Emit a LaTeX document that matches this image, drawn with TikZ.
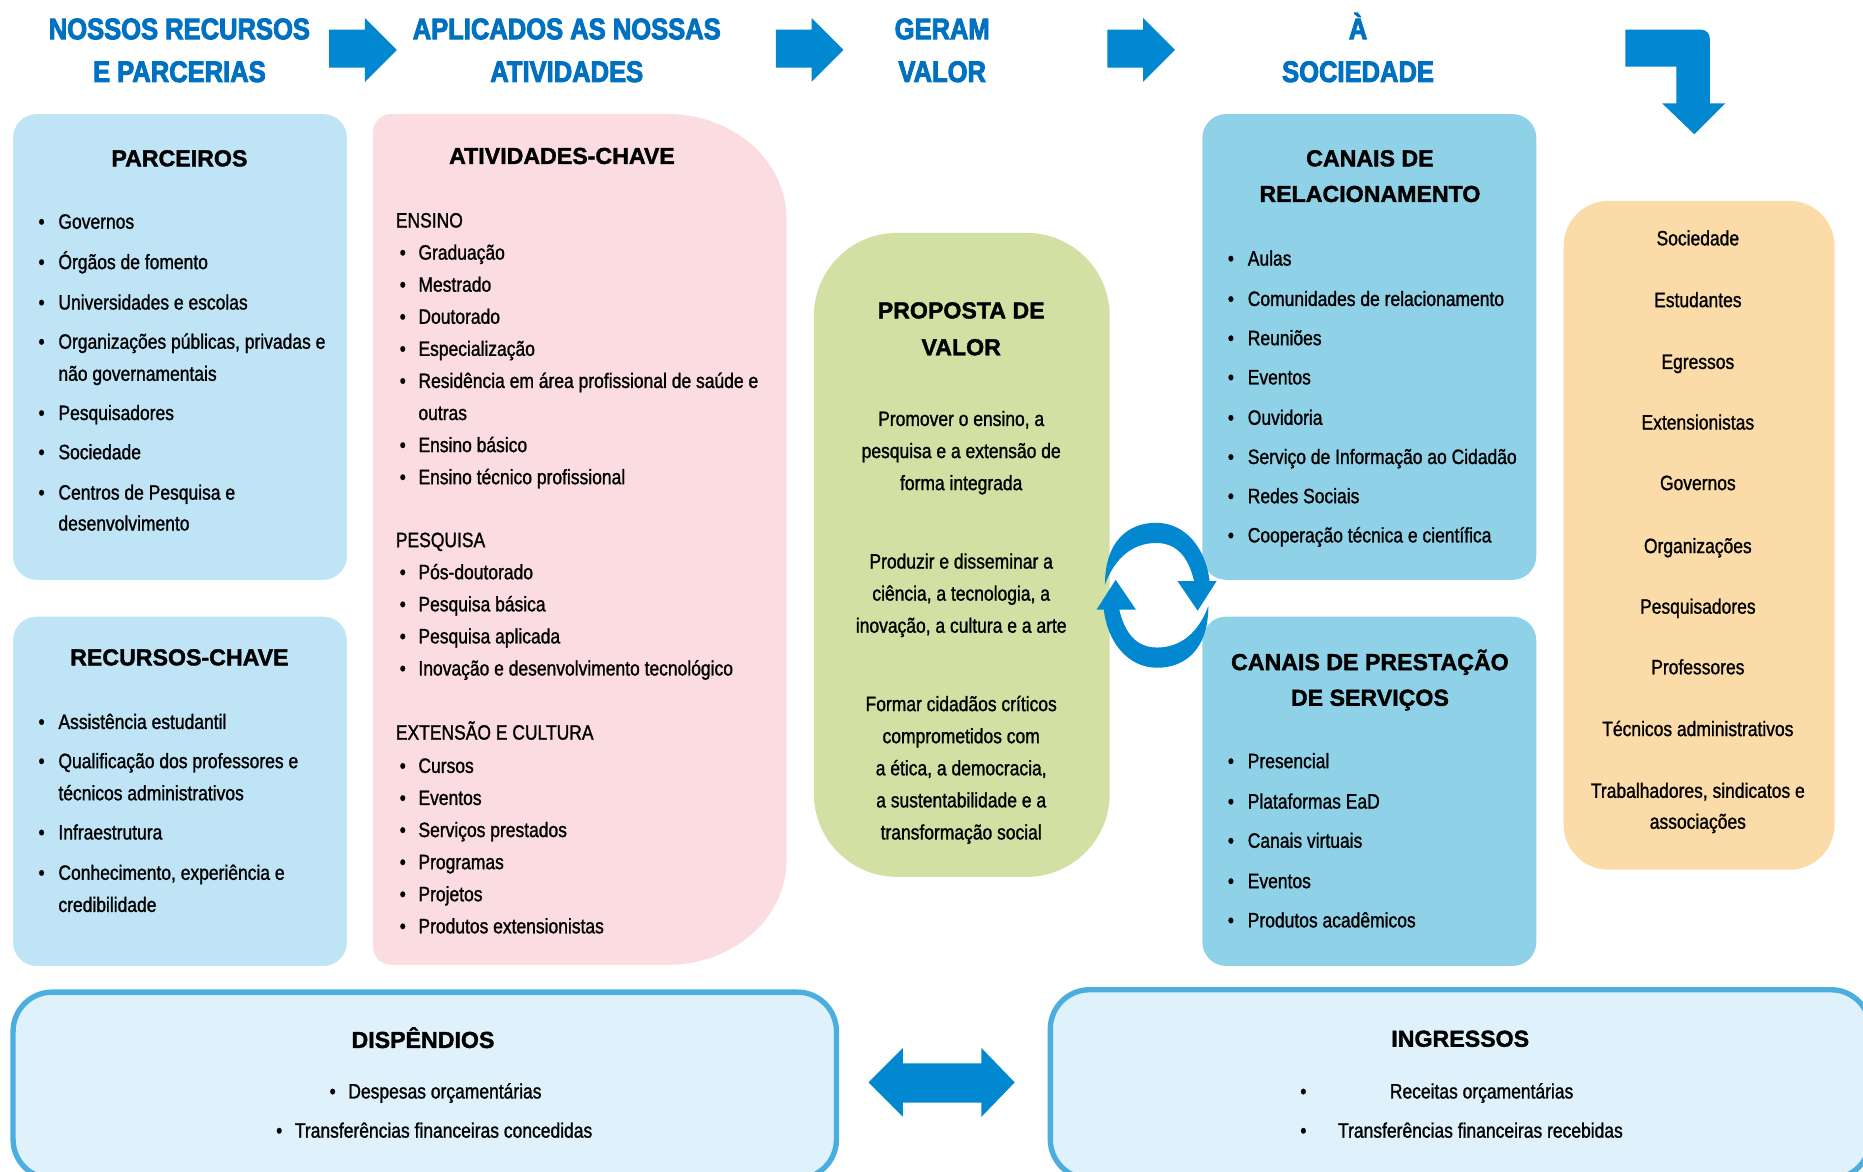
\documentclass[tikz,border=0pt]{standalone}
\usepackage{fontspec}
\setmainfont{Liberation Sans}
\newfontfamily\bodyfont[FakeStretch=0.84, FakeBold=1.2]{Liberation Sans}
\newfontfamily\headfont[FakeStretch=0.86, BoldFeatures={FakeBold=3}]{Liberation Sans}
\newfontfamily\ttlfont[BoldFeatures={FakeBold=1.6}]{Liberation Sans}

\definecolor{hdrblue}{RGB}{0,112,192}
\definecolor{flowblue}{RGB}{2,136,209}
\definecolor{parcblue}{RGB}{190,228,246}
\definecolor{ativpink}{RGB}{250,220,225}
\definecolor{propgreen}{RGB}{210,224,163}
\definecolor{canalblue}{RGB}{143,209,231}
\definecolor{socpeach}{RGB}{251,220,168}
\definecolor{finfill}{RGB}{223,241,251}
\definecolor{finedge}{RGB}{75,174,223}

\begin{document}
\begin{tikzpicture}[x=1pt, y=-1pt,
  panel/.style={inner sep=0, outer sep=0, anchor=north west},
  hdr/.style={font=\headfont\bfseries\fontsize{25}{26}\selectfont, text=hdrblue, text height=18, text depth=0, inner sep=0},
  ttl/.style={font=\ttlfont\bfseries\fontsize{19.5}{20}\selectfont, text height=14, text depth=0, inner sep=0},
  txt/.style={font=\bodyfont\fontsize{17.5}{20}\selectfont, text height=11, text depth=0, inner sep=0, anchor=west},
  ctxt/.style={txt, anchor=center},
  dot/.style={txt, anchor=center},
  flow/.style={fill=flowblue}]

  \useasboundingbox (0,0) rectangle (1568,986);
  \fill[white] (0,0) rectangle (1568,986);
  \clip (0,0) rectangle (1568,986);

  % header row
  \foreach \x/\a/\b [count=\i] in {151/NOSSOS RECURSOS/E PARCERIAS, 477/APLICADOS AS NOSSAS/ATIVIDADES, 793/GERAM/VALOR, 1143/À/SOCIEDADE}
  {
    \node [hdr] (head-\i a) at (\x,24) {\a};
    \node [hdr] (head-\i b) at (\x,60) {\b};
  }

  % flow arrows between headers
  \foreach \ax in {277,653,932}
  \fill[flow] (\ax,25) -- ++(30,0) -- ++(0,-10) -- ++(27,27) -- ++(-27,27) -- ++(0,-12) -- ++(-30,0) -- cycle;

  \fill[flow] (1368,25) -- (1432,25) arc[start angle=270, end angle=360, radius=7]
    -- (1439,87) -- (1452,87) -- (1426,113) -- (1399,87) -- (1411,87) -- (1411,56) -- (1368,56) -- cycle;

  % panels
  \node [panel, fill=parcblue, rounded corners=20, minimum width=281, minimum height=392] (parceiros) at (11,96) {};
  \node [panel, fill=parcblue, rounded corners=20, minimum width=281, minimum height=294] (recursos) at (11,519) {};
  \fill[ativpink] (329,96) -- (562,96) arc[start angle=270, end angle=360, x radius=100, y radius=88]
    -- (662,724) arc[start angle=0, end angle=90, x radius=100, y radius=88]
    -- (329,812) arc[start angle=90, end angle=180, radius=15]
    -- (314,111) arc[start angle=180, end angle=270, radius=15] -- cycle;
  \node [panel, fill=propgreen, rounded corners=70, minimum width=249, minimum height=542] (proposta) at (685,196) {};
  \node [panel, fill=canalblue, rounded corners=20, minimum width=281, minimum height=392] (relac) at (1012,96) {};
  \node [panel, fill=canalblue, rounded corners=20, minimum width=281, minimum height=294] (prest) at (1012,519) {};
  \node [panel, fill=socpeach, rounded corners=38, minimum width=228, minimum height=563] (sociedade) at (1316,169) {};
  \node [panel, fill=finfill, draw=finedge, line width=4.5, rounded corners=33, minimum width=693, minimum height=157] (dispendios) at (11,835) {};
  \node [panel, fill=finfill, draw=finedge, line width=4.5, rounded corners=33, minimum width=690, minimum height=159] (ingressos) at (884,833) {};

  % parceiros
  \node [ttl] (parc-title) at (151,133) {PARCEIROS};
  \foreach \t/\y [count=\i] in {Governos/187, Órgãos de fomento/221, Universidades e escolas/255,
    {Organizações públicas, privadas e}/288, não governamentais/315, Pesquisadores/348,
    Sociedade/381, Centros de Pesquisa e/415, desenvolvimento/441}
  \node [txt] (parc-\i) at (49,\y) {\t};
  \foreach \y [count=\i] in {187,221,255,288,348,381,415}
  \node [dot] (parc-dot-\i) at (35,\y) {•};

  % recursos-chave
  \node [ttl] (rec-title) at (151,553) {RECURSOS-CHAVE};
  \foreach \t/\y [count=\i] in {Assistência estudantil/608, Qualificação dos professores e/641,
    técnicos administrativos/668, Infraestrutura/701, {Conhecimento, experiência e}/735, credibilidade/762}
  \node [txt] (rec-\i) at (49,\y) {\t};
  \foreach \y [count=\i] in {608,641,701,735}
  \node [dot] (rec-dot-\i) at (35,\y) {•};

  % atividades-chave
  \node [ttl] (ativ-title) at (473,131) {ATIVIDADES-CHAVE};
  \foreach \t/\y [count=\i] in {ENSINO/186, PESQUISA/455, EXTENSÃO E CULTURA/617}
  \node [txt] (ativ-sub-\i) at (333,\y) {\t};
  \foreach \t/\y [count=\i] in {Graduação/213, Mestrado/240, Doutorado/267, Especialização/294,
    Residência em área profissional de saúde e/321, outras/348, Ensino básico/375,
    Ensino técnico profissional/402, Pós-doutorado/482, Pesquisa básica/509, Pesquisa aplicada/536,
    Inovação e desenvolvimento tecnológico/563, Cursos/645, Eventos/672, Serviços prestados/699,
    Programas/726, Projetos/753, Produtos extensionistas/780}
  \node [txt] (ativ-\i) at (352,\y) {\t};
  \foreach \y [count=\i] in {213,240,267,294,321,375,402,482,509,536,563,645,672,699,726,753,780}
  \node [dot] (ativ-dot-\i) at (339,\y) {•};

  % proposta de valor
  \node [ttl] (prop-title-1) at (809,261) {PROPOSTA DE};
  \node [ttl] (prop-title-2) at (809,292) {VALOR};
  \foreach \t/\y [count=\i] in {{Promover o ensino, a}/353, pesquisa e a extensão de/380, forma integrada/407,
    Produzir e disseminar a/473, {ciência, a tecnologia, a}/500, {inovação, a cultura e a arte}/527,
    Formar cidadãos críticos/593, comprometidos com/620, {a ética, a democracia,}/647,
    a sustentabilidade e a/674, transformação social/701}
  \node [ctxt] (prop-\i) at (809,\y) {\t};

  % cycle between value and channels
  \fill[flow] (930,492) .. controls (930,455) and (950,440) .. (973,440)
    .. controls (998,440) and (1015,462) .. (1018,489)
    -- (1024,489) -- (1008,514) -- (991,489) -- (1005,489)
    .. controls (1000,468) and (990,457) .. (973,457)
    .. controls (953,457) and (938,470) .. (930,492) -- cycle;
  \fill[flow] (1017,510) .. controls (1017,547) and (997,562) .. (974,562)
    .. controls (949,562) and (932,540) .. (929,513)
    -- (923,513) -- (939,488) -- (956,513) -- (942,513)
    .. controls (947,534) and (957,545) .. (974,545)
    .. controls (994,545) and (1009,532) .. (1017,510) -- cycle;

  % canais de relacionamento
  \node [ttl] (relac-title-1) at (1153,133) {CANAIS DE};
  \node [ttl] (relac-title-2) at (1153,163) {RELACIONAMENTO};
  \foreach \t/\y [count=\i] in {Aulas/218, Comunidades de relacionamento/252, Reuniões/285, Eventos/318,
    Ouvidoria/352, Serviço de Informação ao Cidadão/385, Redes Sociais/418, Cooperação técnica e científica/451}
  {
    \node [txt] (relac-\i) at (1050,\y) {\t};
    \node [dot] (relac-dot-\i) at (1036,\y) {•};
  }

  % canais de prestacao de servicos
  \node [ttl] (prest-title-1) at (1153,557) {CANAIS DE PRESTAÇÃO};
  \node [ttl] (prest-title-2) at (1153,587) {DE SERVIÇOS};
  \foreach \t/\y [count=\i] in {Presencial/641, Plataformas EaD/675, Canais virtuais/708, Eventos/742, Produtos acadêmicos/775}
  {
    \node [txt] (prest-\i) at (1050,\y) {\t};
    \node [dot] (prest-dot-\i) at (1036,\y) {•};
  }

  % sociedade
  \foreach \t/\y [count=\i] in {Sociedade/201, Estudantes/253, Egressos/305, Extensionistas/356, Governos/407,
    Organizações/460, Pesquisadores/511, Professores/562, Técnicos administrativos/614,
    {Trabalhadores, sindicatos e}/666, associações/692}
  \node [ctxt] (soc-\i) at (1429,\y) {\t};

  % dispendios and ingressos
  \node [ttl] (disp-title) at (356,875) {DISPÊNDIOS};
  \node [txt] (disp-1) at (293,919) {Despesas orçamentárias};
  \node [txt] (disp-2) at (248,952) {Transferências financeiras concedidas};
  \node [dot] (disp-dot-1) at (280,919) {•};
  \node [dot] (disp-dot-2) at (235,952) {•};

  \node [ttl] (ingr-title) at (1229,874) {INGRESSOS};
  \node [ctxt] (ingr-1) at (1247,919) {Receitas orçamentárias};
  \node [txt] (ingr-2) at (1126,952) {Transferências financeiras recebidas};
  \node [dot] (ingr-dot-1) at (1097,919) {•};
  \node [dot] (ingr-dot-2) at (1097,952) {•};

  \fill[flow] (731,911) -- (760,882) -- (760,895) -- (826,895) -- (826,882) -- (854,911)
    -- (826,940) -- (826,928) -- (760,928) -- (760,940) -- cycle;

\end{tikzpicture}
\end{document}
